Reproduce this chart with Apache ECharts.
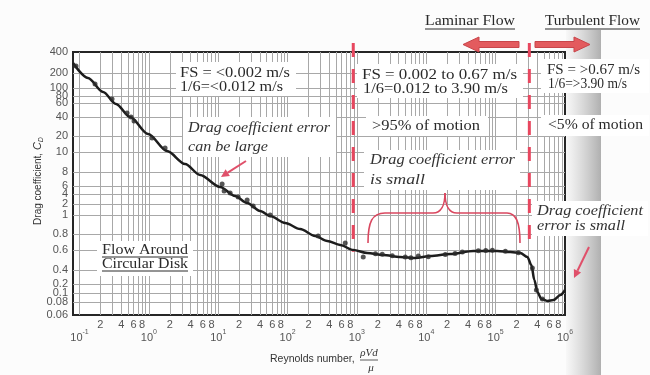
<!DOCTYPE html>
<html>
<head>
<meta charset="utf-8">
<script src="https://cdn.jsdelivr.net/npm/echarts@6/dist/echarts.min.js"></script>
<style>
  html, body { margin: 0; padding: 0; background: #fcfcfc; }
  #chart { width: 650px; height: 375px; }
</style>
</head>
<body>
<div id="chart"></div>
<script>
// Drag coefficient of a circular disk versus Reynolds number.

// Fitted curve: Reynolds number and drag coefficient
const curveRe = [0.0806, 0.1327, 0.2183, 0.3363, 0.5355, 0.974, 1.83, 3.33, 5.48, 10.65,
  17.5, 26.1, 40.2, 56.1, 92.3, 152, 250, 373, 574, 884,
  1408, 2396, 4215, 6938, 11420, 22200, 47700, 105800, 163000, 227000,
  286700, 327500, 361700, 399600, 456500, 557200, 680000, 858400, 1000000];
const curveCd = [278, 159, 89.4, 58.3, 40, 21.5, 10.4, 8.75, 7.52, 5.70,
  3.48, 2.14, 1.29, 0.988, 0.91, 0.848, 0.772, 0.706, 0.657, 0.6,
  0.565, 0.542, 0.521, 0.510, 0.531, 0.553, 0.588, 0.588, 0.576, 0.565,
  0.521, 0.443, 0.244, 0.108, 0.0862, 0.082, 0.084, 0.0952, 0.126];

// Measured points
const sampleRe = [0.089, 0.1674, 0.2944, 0.4846, 0.5535, 0.6114, 1.112, 1.713, 11.38, 12.17,
  14.85, 19.37, 26.12, 31.89, 56.1, 276, 678, 1233, 2318, 3231,
  4977, 7666, 10690, 18800, 33080, 56290, 89640, 138000, 212600, 338500,
  386700, 472000, 1850, 6000, 26000, 72000];
const sampleCd = [252, 120, 70.7, 44.9, 40, 34.6, 18.3, 11.9, 6.25, 4.66,
  4.21, 3.25, 2.64, 1.76, 1.0, 0.772, 0.681, 0.52, 0.55, 0.535,
  0.52, 0.53, 0.522, 0.548, 0.575, 0.592, 0.598, 0.585, 0.568, 0.417,
  0.126, 0.0862, 0.555, 0.512, 0.56, 0.595];

// Flow regime limits (Reynolds number)
const laminarLimitRe = 885;
const turbulentLimitRe = 306000;

// Drag-coefficient axis: tick labels and where each sits along the axis
const cdTicks = [400, 200, 100, 80, 60, 40, 20, 10, 8, 6, 4, 2, 1, 0.8, 0.6, 0.4, 0.2, 0.1, 0.08, 0.06];
const cdTickStops = [263, 242, 227, 219, 212, 198, 179, 163, 143, 129, 121, 111, 100, 81, 65, 45, 31, 22, 13, 0];

// Reynolds-number axis ticks
const reDecades = [0.1, 1, 10, 100, 1e3, 1e4, 1e5, 1e6];
const reMinorDigits = [2, 4, 6, 8];
const reMin = Math.pow(10, -1.094);
const reMax = 1e6;

// Map a drag coefficient onto the axis (log interpolation between labelled ticks)
function cdToAxis(cd) {
  const lc = Math.log10(cd);
  for (let i = 0; i < cdTicks.length - 1; i++) {
    const a = Math.log10(cdTicks[i]), b = Math.log10(cdTicks[i + 1]);
    if (lc <= a && lc >= b) {
      return cdTickStops[i] + (lc - a) / (b - a) * (cdTickStops[i + 1] - cdTickStops[i]);
    }
  }
  return lc > Math.log10(cdTicks[0]) ? cdTickStops[0] : cdTickStops[cdTickStops.length - 1];
}

const minorLabelValues = [];
const gridValues = [];
reDecades.slice(0, -1).forEach(d => {
  reMinorDigits.forEach(k => minorLabelValues.push(k * d));
  for (let k = 1; k <= 9; k++) { if (k * d > reMin) gridValues.push(k * d); }
});

const gridLine = { color: '#a8a8a8', width: 1 };
const tickFont = 'Liberation Sans';

const chart = echarts.init(document.getElementById('chart'), null, { renderer: 'canvas' });

chart.setOption({
  animation: false,
  backgroundColor: '#fcfcfc',
  grid: {
    left: 73, right: 85, top: 52, bottom: 60,
    show: true, backgroundColor: '#ffffff', borderColor: '#262626', borderWidth: 2,
    outerBoundsMode: 'none'
  },
  xAxis: [
    {
      type: 'log', min: reMin, max: reMax, position: 'bottom',
      axisLine: { show: false }, axisTick: { show: false }, splitLine: { show: false },
      axisLabel: {
        customValues: reDecades, margin: 14, hideOverlap: false,
        formatter: v => '{b|10}{s|' + Math.round(Math.log10(v)) + '}',
        rich: {
          b: { fontSize: 11, fontFamily: tickFont, color: '#555', lineHeight: 14, verticalAlign: 'bottom' },
          s: { fontSize: 7, fontFamily: tickFont, color: '#555', lineHeight: 7, verticalAlign: 'top' }
        }
      }
    },
    {
      type: 'log', min: reMin, max: reMax, position: 'bottom',
      axisLine: { show: false },
      axisTick: { show: false, customValues: gridValues },
      splitLine: { show: true, lineStyle: gridLine },
      axisLabel: {
        customValues: minorLabelValues, margin: 4, hideOverlap: false,
        fontSize: 11, fontFamily: tickFont, color: '#555',
        formatter: v => String(Math.round(v / Math.pow(10, Math.floor(Math.log10(v) + 1e-9))))
      }
    }
  ],
  yAxis: {
    type: 'value', min: 0, max: cdTickStops[0],
    axisLine: { show: false },
    axisTick: { show: false, customValues: cdTickStops.slice(1, -1) },
    splitLine: { show: true, lineStyle: gridLine },
    axisLabel: {
      customValues: cdTickStops, margin: 5, hideOverlap: false,
      fontSize: 11, fontFamily: tickFont, color: '#555',
      formatter: v => {
        const i = cdTickStops.findIndex(s => Math.abs(s - v) < 0.01);
        return i >= 0 ? String(cdTicks[i]) : '';
      }
    }
  },
  series: [
    {
      type: 'line', xAxisIndex: 0, yAxisIndex: 0, z: 3,
      data: curveRe.map((r, i) => [r, cdToAxis(curveCd[i])]),
      showSymbol: false, symbol: 'none', smooth: 0.3, smoothMonotone: 'x',
      lineStyle: { color: '#1d1d1d', width: 2.5 }
    },
    {
      type: 'scatter', xAxisIndex: 0, yAxisIndex: 0, z: 4,
      data: sampleRe.map((r, i) => [r, cdToAxis(sampleCd[i])]),
      symbolSize: 5, itemStyle: { color: '#2b2b2b' }
    }
  ]
});

// ---------- annotations ----------
const measureCtx = document.createElement('canvas').getContext('2d');
const serif = '"Liberation Serif", "DejaVu Serif", serif';

function label(str, x, y, w, opts) {
  const o = Object.assign({ size: 15, italic: false, color: '#2a2a2a', family: serif }, opts || {});
  const font = (o.italic ? 'italic ' : '') + o.size + 'px ' + o.family;
  measureCtx.font = font;
  const sx = w / measureCtx.measureText(str).width;
  return {
    type: 'text', x: x, y: y, scaleX: sx, z: 20, silent: true,
    style: { text: str, x: 0, y: 0, font: font, fill: o.color, align: 'left', verticalAlign: 'middle' }
  };
}
function box(x, y, w, h, fill) {
  return { type: 'rect', z: 15, silent: true, shape: { x: x, y: y, width: w, height: h },
    style: { fill: fill || '#ffffff' } };
}
function underline(x1, x2, y) {
  return { type: 'line', z: 20, silent: true, shape: { x1: x1, y1: y, x2: x2, y2: y },
    style: { stroke: '#2a2a2a', lineWidth: 1 } };
}
function thinArrow(x1, y1, x2, y2) {
  const a = Math.atan2(y2 - y1, x2 - x1), L = 8, W = 4;
  const bx = x2 - L * Math.cos(a), by = y2 - L * Math.sin(a);
  return [
    { type: 'line', z: 20, silent: true, shape: { x1: x1, y1: y1, x2: bx, y2: by },
      style: { stroke: '#e0506a', lineWidth: 2 } },
    { type: 'polygon', z: 20, silent: true,
      shape: { points: [[x2, y2], [bx + W * Math.sin(a), by - W * Math.cos(a)], [bx - W * Math.sin(a), by + W * Math.cos(a)]] },
      style: { fill: '#e0506a' } }
  ];
}
function blockArrow(tail, tip, y) {
  const dir = tip > tail ? 1 : -1;
  const headBase = tip - dir * 16;
  return { type: 'polygon', z: 20, silent: true,
    shape: { points: [[tail, y - 3], [headBase, y - 3], [headBase, y - 7.5], [tip, y], [headBase, y + 7.5], [headBase, y + 3], [tail, y + 3]] },
    style: { fill: '#e35b5e', stroke: '#c8454a', lineWidth: 1 } };
}
function bez(x1, y1, c1x, c1y, c2x, c2y, x2, y2) {
  return { type: 'bezierCurve', z: 20, silent: true,
    shape: { x1: x1, y1: y1, cpx1: c1x, cpy1: c1y, cpx2: c2x, cpy2: c2y, x2: x2, y2: y2 },
    style: { stroke: '#d9475f', lineWidth: 1.6, fill: null } };
}
function seg(x1, y1, x2, y2) {
  return { type: 'line', z: 20, silent: true, shape: { x1: x1, y1: y1, x2: x2, y2: y2 },
    style: { stroke: '#d9475f', lineWidth: 1.6 } };
}

const xLam = chart.convertToPixel({ xAxisIndex: 0 }, laminarLimitRe);
const xTurb = chart.convertToPixel({ xAxisIndex: 0 }, turbulentLimitRe);
const yLamEnd = chart.convertToPixel({ yAxisIndex: 0 }, cdToAxis(0.58));
const yTurbEnd = chart.convertToPixel({ yAxisIndex: 0 }, cdToAxis(0.66));

const graphics = [
  // shaded strip beside the plot frame
  { type: 'rect', z: 1, silent: true, shape: { x: 566, y: 30, width: 35, height: 345 },
    style: { fill: new echarts.graphic.LinearGradient(0, 0, 1, 0, [
      { offset: 0, color: 'rgba(170,170,170,0.05)' },
      { offset: 1, color: 'rgba(150,150,150,0.75)' }]) } },

  // white backing behind annotation text
  box(176, 62, 120, 34),
  box(357, 64, 166, 34),
  box(541, 59, 108, 34),
  box(366, 116, 122, 20),
  box(541, 115, 108, 21),
  box(183, 117, 153, 40),
  box(364, 150, 156, 40),
  box(532, 201, 116, 35),
  box(97, 241, 96, 35),

  // regime boundaries
  { type: 'line', z: 18, silent: true, shape: { x1: xLam, y1: 43, x2: xLam, y2: yLamEnd },
    style: { stroke: '#e8475f', lineWidth: 3, lineDash: [14, 12] } },
  { type: 'line', z: 18, silent: true, shape: { x1: xTurb, y1: 43, x2: xTurb, y2: yTurbEnd },
    style: { stroke: '#e8475f', lineWidth: 3, lineDash: [14, 12] } },

  // flow-direction arrows
  blockArrow(519, 463, 44.5),
  blockArrow(535, 590, 44.5),

  // titles of the regimes
  label('Laminar Flow', 425, 21, 90),
  underline(425, 515, 29),
  label('Turbulent Flow', 545, 21, 95),
  underline(545, 640, 29),

  // speed ranges
  label('FS = <0.002 m/s', 180, 73, 110),
  label('1/6=<0.012 m/s', 180, 87, 103),
  label('FS = 0.002 to 0.67 m/s', 362, 75, 155),
  label('1/6=0.012 to 3.90 m/s', 363, 89, 145),
  label('FS = >0.67 m/s', 547, 70, 93),
  label('1/6=>3.90 m/s', 548, 84, 79),
  label('>95% of motion', 372, 126, 108),
  label('<5% of motion', 548, 125, 95),

  // error notes
  label('Drag coefficient error', 188, 128, 142, { italic: true, color: '#333' }),
  label('can be large', 188, 147, 80, { italic: true, color: '#333' }),
  label('Drag coefficient error', 370, 160, 145, { italic: true, color: '#333' }),
  label('is small', 370, 180, 55, { italic: true, color: '#333' }),
  label('Drag coefficient', 537, 211, 106, { italic: true, color: '#333' }),
  label('error is small', 537, 226, 88, { italic: true, color: '#333' }),

  // case title
  label('Flow Around', 102, 250, 86),
  underline(102, 188, 257),
  label('Circular Disk', 102, 264, 86),
  underline(102, 188, 271),

  // brace over the laminar plateau
  bez(368, 243, 368, 222, 372, 213, 385, 213),
  seg(385, 213, 433, 213),
  bez(433, 213, 441, 213, 445, 205, 445, 193),
  bez(445, 193, 445, 205, 449, 213, 457, 213),
  seg(457, 213, 507, 213),
  bez(507, 213, 516, 213, 520, 222, 520, 243),

  // axis titles
  { type: 'text', z: 20, silent: true, x: 38, y: 181, rotation: Math.PI / 2,
    style: {
      text: '{n|Drag coefficient, }{c|C}{d|D}', x: 0, y: 0, align: 'center', verticalAlign: 'middle',
      rich: {
        n: { fontSize: 10, fontFamily: tickFont, fill: '#333', lineHeight: 14, verticalAlign: 'middle' },
        c: { fontSize: 11, fontFamily: tickFont, fontStyle: 'italic', fill: '#333', lineHeight: 14, verticalAlign: 'middle' },
        d: { fontSize: 7, fontFamily: tickFont, fontStyle: 'italic', fill: '#333', lineHeight: 7, verticalAlign: 'bottom' }
      }
    } },
  { type: 'text', z: 20, silent: true, x: 270, y: 359,
    style: { text: 'Reynolds number,', x: 0, y: 0, font: '10.5px ' + tickFont, fill: '#333', align: 'left', verticalAlign: 'middle' } },
  { type: 'text', z: 20, silent: true, x: 369, y: 353,
    style: { text: 'ρVd', x: 0, y: 0, font: 'italic 11px ' + serif, fill: '#333', align: 'center', verticalAlign: 'middle' } },
  { type: 'line', z: 20, silent: true, shape: { x1: 360, y1: 360, x2: 378, y2: 360 },
    style: { stroke: '#333', lineWidth: 0.8 } },
  { type: 'text', z: 20, silent: true, x: 371, y: 368,
    style: { text: 'μ', x: 0, y: 0, font: 'italic 11px ' + serif, fill: '#333', align: 'center', verticalAlign: 'middle' } }
].concat(thinArrow(246, 161, 221, 177), thinArrow(589, 247, 574, 278));

chart.setOption({ graphic: { elements: graphics } });
</script>
</body>
</html>
